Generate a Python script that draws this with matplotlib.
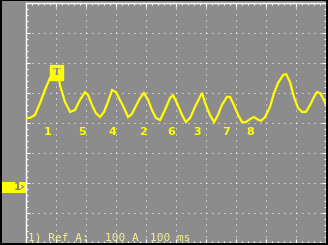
import numpy as np
import matplotlib
matplotlib.use("Agg")
import matplotlib.pyplot as plt
from matplotlib.patches import Rectangle
from matplotlib.ticker import MultipleLocator

GRAY = "#8c8c8c"
TRACE = "#ffff00"
TEXT_PALE = "#f4f48c"

# trace of channel 1, time in ms, current in A (100 A/div, 100 ms/div)
time_ms = [0, 13, 30, 47, 63, 80, 97, 107, 113, 130, 147, 163, 180, 197, 207,
           220, 233, 247, 260, 273, 287, 300, 313, 327, 340, 353, 363, 380, 393,
           407, 420, 433, 447, 463, 480, 490, 503, 520, 533, 547, 563, 580, 587,
           597, 613, 627, 640, 653, 670, 680, 693, 707, 720, 733, 747, 760, 770,
           783, 797, 813, 827, 840, 857, 867, 880, 893, 907, 920, 933, 947, 960,
           970, 980, 993, 1000]
current_a = [17, 17, 27, 67, 110, 150, 167, 170, 127, 70, 37, 43, 77, 103, 93,
             60, 33, 20, 37, 70, 110, 103, 77, 50, 20, 30, 50, 83, 100,
             77, 43, 17, 10, 43, 83, 93, 67, 27, 3, 17, 53, 87, 100,
             67, 27, 3, 27, 60, 87, 87, 60, 27, 3, 3, 13, 20, 13,
             7, 20, 53, 100, 133, 160, 163, 137, 87, 50, 37, 37, 60, 87,
             103, 100, 77, 60]

# numbered markers under the trace
peak_labels = ["1", "5", "4", "2", "6", "3", "7", "8"]
label_ms = [73, 187, 287, 390, 483, 570, 667, 747]
label_a = -30

# trigger marker
trig_ms, trig_a = 102, 168

W, H = 328, 245
def fx(px):
    return px / W
def fy(py):
    return 1 - py / H

fig = plt.figure(figsize=(W / 100, H / 100), dpi=100)
fig.patch.set_facecolor(GRAY)

# black frame round the screen
for x0, y0, x1, y1 in [(0, 0, 2, 245), (0, 0, 328, 1), (326, 0, 328, 245),
                       (0, 243, 328, 245)]:
    fig.patches.append(Rectangle((fx(x0), fy(y1)), fx(x1) - fx(x0),
                                 fy(y0) - fy(y1), transform=fig.transFigure,
                                 facecolor="black", edgecolor="none", zorder=5))

ax = fig.add_axes([fx(26), fy(243), 300 / W, 240 / H])
ax.set_zorder(1)
ax.set_facecolor(GRAY)
ax.set_xlim(0, 1000)
ax.set_ylim(-400, 400)
for s in ax.spines.values():
    s.set_color("white")
    s.set_linewidth(1.0)

ax.xaxis.set_major_locator(MultipleLocator(100))
ax.yaxis.set_major_locator(MultipleLocator(100))
ax.xaxis.set_minor_locator(MultipleLocator(20))
ax.yaxis.set_minor_locator(MultipleLocator(20))
ax.tick_params(which="both", direction="in", colors="white", labelleft=False,
               labelbottom=False, top=True, right=True, width=0.8)
ax.tick_params(which="major", length=3)
ax.tick_params(which="minor", length=1.5)
ax.grid(True, which="major", color="white", linewidth=0.72,
        linestyle=(0, (1, 5)))

ax.plot(time_ms, current_a, color=TRACE, linewidth=1.6, zorder=3,
        solid_joinstyle="miter")

for lab, t in zip(peak_labels, label_ms):
    ax.text(t, label_a, lab, color=TRACE, fontsize=8, fontweight="bold",
            ha="center", va="center", zorder=4)

ax.text(trig_ms, trig_a, "T", color=GRAY, fontsize=7.5, fontweight="bold",
        family="DejaVu Serif", ha="center", va="center", zorder=5,
        bbox=dict(boxstyle="square,pad=0.25", facecolor=TRACE, edgecolor=TRACE))

# bottom readout
for txt, px in [("1) Ref A:", 28), ("100 A", 105), ("100 ms", 150)]:
    ax.text(fx(px), fy(237.5), txt, transform=fig.transFigure, color=TEXT_PALE,
            fontsize=8, family="DejaVu Sans Mono", ha="left", va="center",
            zorder=6)

# channel 1 marker on the left
fig.patches.append(Rectangle((fx(2), fy(193)), fx(26) - fx(2), fy(182) - fy(193),
                             transform=fig.transFigure, facecolor=TRACE,
                             edgecolor="none", zorder=2))
fig.text(fx(25), fy(187.5), "1\u203a", color="#808080", fontsize=7.5,
         fontweight="bold", ha="right", va="center", zorder=3)

fig.savefig("out.png", dpi=100, facecolor=fig.get_facecolor())
